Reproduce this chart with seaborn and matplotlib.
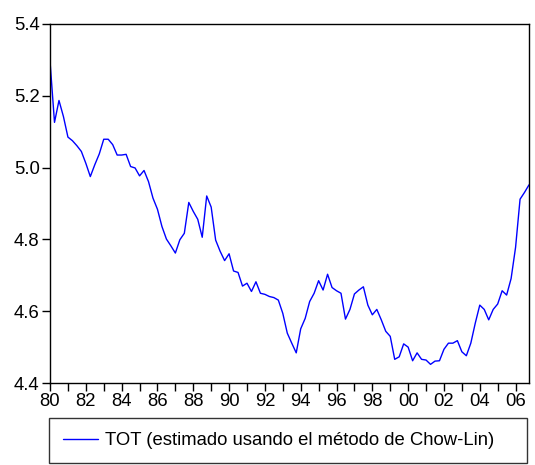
import numpy as np
import pandas as pd
import matplotlib
matplotlib.use("Agg")
import matplotlib.pyplot as plt
import seaborn as sns
from matplotlib.lines import Line2D

start_year = 1980
series_name = "TOT (estimado usando el método de Chow-Lin)"
tot = [
    5.296, 5.126, 5.187, 5.142, 5.085, 5.075, 5.061, 5.045, 5.012, 4.975,
    5.008, 5.038, 5.079, 5.079, 5.064, 5.035, 5.035, 5.037, 5.003, 4.999,
    4.977, 4.992, 4.961, 4.915, 4.884, 4.836, 4.801, 4.782, 4.762, 4.799,
    4.817, 4.903, 4.878, 4.856, 4.806, 4.921, 4.890, 4.798, 4.767, 4.741,
    4.760, 4.712, 4.708, 4.670, 4.678, 4.655, 4.682, 4.650, 4.647, 4.641,
    4.638, 4.631, 4.594, 4.539, 4.511, 4.484, 4.551, 4.580, 4.627, 4.650,
    4.685, 4.659, 4.703, 4.666, 4.657, 4.650, 4.578, 4.605, 4.648, 4.659,
    4.668, 4.617, 4.590, 4.605, 4.576, 4.544, 4.530, 4.466, 4.473, 4.509,
    4.500, 4.462, 4.484, 4.466, 4.464, 4.452, 4.461, 4.462, 4.494, 4.511,
    4.511, 4.518, 4.487, 4.476, 4.511, 4.567, 4.617, 4.605, 4.576, 4.605,
    4.620, 4.657, 4.645, 4.691, 4.778, 4.912, 4.931, 4.952,
]
year_ticks = list(range(1980, 2007, 2))
year_labels = [f"{y % 100:02d}" for y in year_ticks]
y_ticks = [4.4, 4.6, 4.8, 5.0, 5.2, 5.4]

quarters = pd.period_range(f"{start_year}Q1", periods=len(tot), freq="Q")
df = pd.DataFrame({
    "t": quarters.year + (quarters.quarter - 1) / 4.0,
    "value": tot,
    "serie": series_name,
})

sns.set_style("ticks")
plt.rcParams["font.family"] = ["Liberation Sans", "DejaVu Sans"]

FS = 13.3
fig = plt.figure(figsize=(5.35, 4.65), dpi=100)
ax = fig.add_axes([0.0935, 0.1763, 0.8953, 0.7721])
sns.lineplot(data=df, x="t", y="value", hue="serie", palette=["#0000FF"],
             linewidth=1.0, ax=ax, legend=False)

ax.set_xlim(df["t"].iloc[0], df["t"].iloc[-1])
ax.set_ylim(4.4, 5.4)
ax.set_xticks(year_ticks)
ax.set_xticklabels(year_labels)
ax.set_xticks(list(range(1981, 2007, 2)), minor=True)
ax.set_yticks(y_ticks)
ax.set_yticklabels([f"{v:.1f}" for v in y_ticks])
ax.set_xlabel("")
ax.set_ylabel("")
for s in ax.spines.values():
    s.set_visible(True)
    s.set_color("black")
    s.set_linewidth(1.0)
ax.tick_params(axis="both", which="both", direction="out", length=5.5,
               width=1.0, color="black", labelsize=FS, pad=2,
               top=False, right=False, labelcolor="black")

handle = Line2D([0], [0], color="#0000FF", linewidth=1.0)
leg = fig.legend([handle], [series_name], loc="lower left",
                 bbox_to_anchor=(0.0916, 0.004, 0.893, 0.097), mode="expand",
                 frameon=True, fancybox=False, handlelength=1.9,
                 handletextpad=0.4, fontsize=FS, borderaxespad=0,
                 borderpad=0.75)
leg.get_frame().set_edgecolor("black")
leg.get_frame().set_linewidth(1.0)
for t in leg.get_texts():
    t.set_color("black")

fig.savefig("out.png", dpi=100)
